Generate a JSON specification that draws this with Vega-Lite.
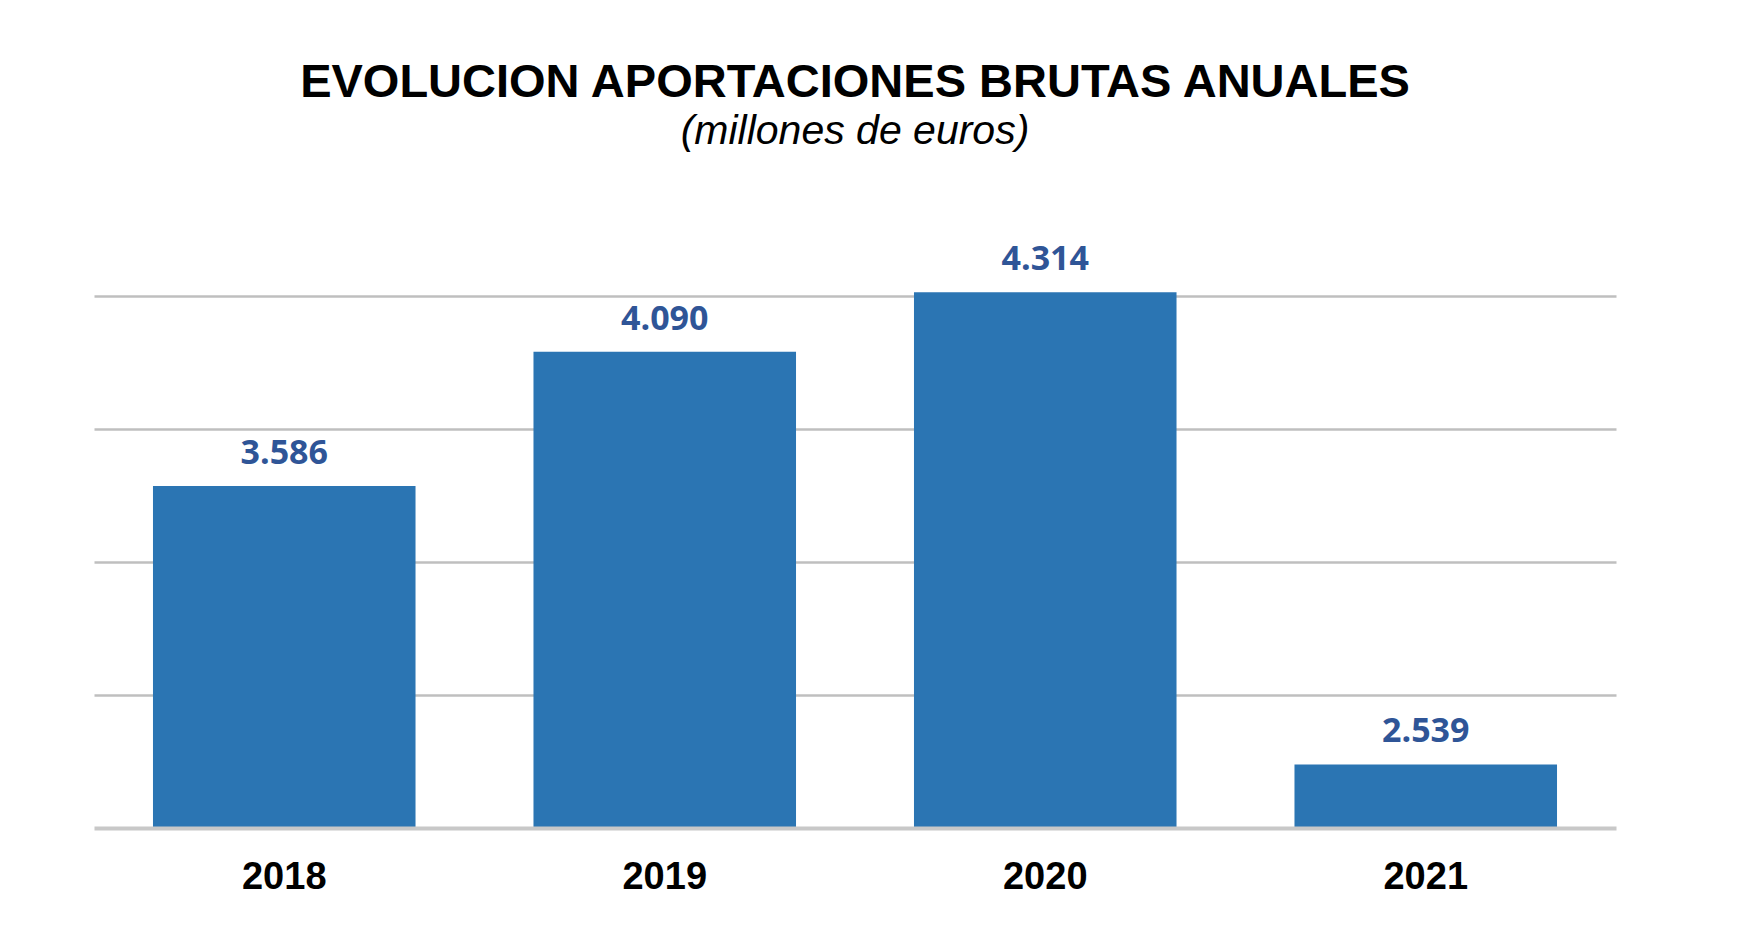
{
  "$schema": "https://vega.github.io/schema/vega-lite/v6.json",
  "description": "Evolucion aportaciones brutas anuales (millones de euros)",
  "width": 1522,
  "height": 532,
  "autosize": {"type": "none"},
  "padding": {"left": 94, "top": 296, "right": 134, "bottom": 124},
  "background": "white",
  "title": {
    "text": "EVOLUCION APORTACIONES BRUTAS ANUALES",
    "subtitle": "(millones de euros)",
    "font": "Liberation Sans",
    "fontSize": 47,
    "fontWeight": "bold",
    "color": "black",
    "subtitleFont": "Liberation Sans",
    "subtitleFontSize": 41,
    "subtitleFontStyle": "italic",
    "subtitleColor": "black",
    "subtitlePadding": 5,
    "anchor": "middle",
    "offset": 90
  },
  "config": {
    "view": {"stroke": null},
    "locale": {
      "number": {"decimal": ",", "thousands": ".", "grouping": [3], "currency": ["", " €"]}
    }
  },
  "data": {
    "values": [
      {"anio": "2018", "aportaciones": 3586},
      {"anio": "2019", "aportaciones": 4090},
      {"anio": "2020", "aportaciones": 4314},
      {"anio": "2021", "aportaciones": 2539}
    ]
  },
  "encoding": {
    "x": {
      "field": "anio",
      "type": "nominal",
      "title": null,
      "scale": {"paddingInner": 0.31, "paddingOuter": 0.155},
      "axis": {
        "labelAngle": 0,
        "labelFont": "Liberation Sans",
        "labelFontSize": 38,
        "labelFontWeight": "bold",
        "labelColor": "black",
        "labelPadding": 30,
        "ticks": false,
        "domainColor": "#c8c8c8",
        "domainWidth": 4,
        "zindex": 1
      }
    },
    "y": {
      "field": "aportaciones",
      "type": "quantitative",
      "title": null,
      "scale": {"domain": [2300, 4300], "nice": false, "zero": false},
      "axis": {
        "values": [2800, 3300, 3800, 4300],
        "labels": false,
        "ticks": false,
        "domain": false,
        "gridColor": "#bfbfbf",
        "gridWidth": 2.5
      }
    }
  },
  "layer": [
    {
      "mark": {"type": "bar", "color": "#2b75b3"},
      "encoding": {"y2": {"datum": 2300}}
    },
    {
      "mark": {
        "type": "text",
        "font": "Open Sans",
        "fontSize": 34,
        "fontWeight": "bold",
        "color": "#2f5597",
        "baseline": "alphabetic",
        "dy": -22
      },
      "encoding": {"text": {"field": "aportaciones", "type": "quantitative", "format": ",d"}}
    }
  ]
}
